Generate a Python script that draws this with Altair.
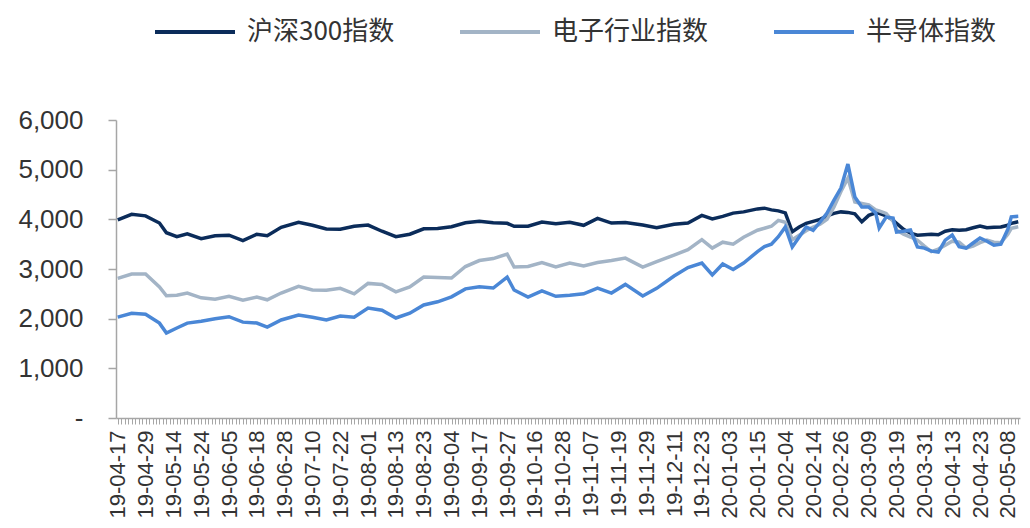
import altair as alt
import pandas as pd

# trading-day index positions at which values were read
idx = [0, 4, 8, 12, 14, 17, 20, 24, 28, 32,
       36, 40, 43, 47, 52, 56, 60, 64, 68, 72,
       76, 80, 84, 88, 92, 96, 100, 104, 108, 112,
       114, 118, 122, 126, 130, 134, 138, 142, 146, 151,
       155, 160, 164, 168, 171, 174, 177, 180, 184, 186,
       188, 190, 192, 194, 196, 198, 200, 202, 204, 206,
       208, 210, 212, 214, 216, 218, 219, 221, 223, 224,
       226, 228, 230, 232, 234, 236, 238, 240, 242, 244,
       246, 248, 250, 252, 254, 256, 257, 259]

hs300 = [3990, 4100, 4070, 3925, 3730, 3650, 3710, 3610, 3670, 3680,
         3570, 3700, 3670, 3840, 3940, 3880, 3805, 3800, 3860, 3885,
         3760, 3650, 3700, 3810, 3815, 3850, 3930, 3960, 3930, 3920,
         3860, 3860, 3946, 3910, 3940, 3880, 4020, 3925, 3935, 3885,
         3830, 3900, 3925, 4080, 4010, 4060, 4125, 4150, 4210, 4225,
         4190, 4170, 4130, 3750, 3845, 3920, 3960, 4000, 4070, 4120,
         4150, 4140, 4110, 3950, 4080, 4130, 4120, 4070, 3980, 3920,
         3800, 3720, 3680, 3690, 3700, 3690, 3760, 3790, 3780, 3790,
         3830, 3865, 3830, 3840, 3845, 3880, 3920, 3950]

elec = [2810, 2900, 2900, 2640, 2460, 2470, 2516, 2420, 2390, 2450,
        2370, 2436, 2380, 2516, 2650, 2577, 2570, 2610, 2500, 2710,
        2690, 2540, 2640, 2838, 2830, 2818, 3050, 3170, 3210, 3300,
        3040, 3050, 3130, 3040, 3120, 3060, 3130, 3170, 3220, 3040,
        3150, 3280, 3390, 3590, 3420, 3540, 3500, 3640, 3780, 3820,
        3860, 3980, 3940, 3590, 3680, 3770, 3845, 3900, 4000, 4250,
        4560, 4830, 4350, 4320, 4290, 4190, 4170, 4120, 3960, 3785,
        3700, 3644, 3580, 3460, 3350, 3400, 3480, 3560, 3540, 3422,
        3460, 3530, 3583, 3540, 3530, 3700, 3820, 3850]

semi = [2030, 2110, 2090, 1910, 1711, 1812, 1910, 1950, 2000, 2040,
        1930, 1912, 1832, 1973, 2073, 2030, 1973, 2053, 2030, 2214,
        2170, 2013, 2110, 2275, 2340, 2440, 2600, 2640, 2617, 2838,
        2577, 2436, 2560, 2450, 2470, 2500, 2617, 2516, 2690, 2456,
        2610, 2860, 3030, 3120, 2879, 3100, 2990, 3120, 3350, 3450,
        3500, 3650, 3845, 3443, 3644, 3845, 3780, 3946, 4127, 4388,
        4630, 5113, 4450, 4247, 4247, 4127, 3825, 4046, 4026, 3744,
        3760, 3785, 3443, 3420, 3360, 3342, 3580, 3684, 3450, 3420,
        3523, 3624, 3560, 3480, 3500, 3800, 4050, 4060]

series_names = ["沪深300指数", "电子行业指数", "半导体指数"]
colors = ["#0b2c5a", "#a3b4c6", "#4a87d6"]

tick_labels = ["19-04-17", "19-04-29", "19-05-14", "19-05-24", "19-06-05",
               "19-06-18", "19-06-28", "19-07-10", "19-07-22", "19-08-01",
               "19-08-13", "19-08-23", "19-09-04", "19-09-17", "19-09-27",
               "19-10-16", "19-10-28", "19-11-07", "19-11-19", "19-11-29",
               "19-12-11", "19-12-23", "20-01-03", "20-01-15", "20-02-04",
               "20-02-14", "20-02-26", "20-03-09", "20-03-19", "20-03-31",
               "20-04-13", "20-04-23", "20-05-08"]
n_days = 260
label_step = 8

assert len(idx) == len(hs300) == len(elec) == len(semi)

rows = []
for name, vals in zip(series_names, [hs300, elec, semi]):
    for i, v in zip(idx, vals):
        rows.append({"i": i, "v": v, "s": name})
df = pd.DataFrame(rows)

label_arr = "[" + ",".join("'" + t + "'" for t in tick_labels) + "]"
text_color = "#333333"
axis_color = "#a6a6a6"

x_axis = alt.Axis(
    values=list(range(n_days)),
    labelExpr=f"datum.value % {label_step} == 0 ? {label_arr}[datum.value / {label_step}] : ''",
    labelAngle=-90, labelAlign="right", labelBaseline="middle",
    labelOverlap=False, labelBound=False, labelFlush=False,
    labelFontSize=22, labelFont="Liberation Sans", labelColor=text_color,
    labelPadding=6, tickSize=6, tickColor=axis_color, tickWidth=1,
    domainColor=axis_color, domainWidth=1.5, grid=False, title=None,
)
y_axis = alt.Axis(
    values=[0, 1000, 2000, 3000, 4000, 5000, 6000],
    labelExpr="datum.value == 0 ? '-' : format(datum.value, ',')",
    labelFontSize=26, labelFont="Liberation Sans", labelColor=text_color,
    labelPadding=25, tickSize=8, tickColor=axis_color, tickWidth=1.5,
    domainColor=axis_color, domainWidth=1.5, grid=False, title=None,
)

chart = alt.Chart(df).mark_line(strokeWidth=3.5).encode(
    x=alt.X("i:Q", scale=alt.Scale(domain=[-0.5, n_days - 0.5], nice=False, zero=False), axis=x_axis),
    y=alt.Y("v:Q", scale=alt.Scale(domain=[0, 6000], nice=False), axis=y_axis),
    color=alt.Color(
        "s:N", sort=series_names,
        scale=alt.Scale(domain=series_names, range=colors),
        legend=alt.Legend(
            orient="none", legendX=37, legendY=-130, direction="horizontal",
            title=None, symbolType="stroke", symbolSize=6400, symbolStrokeWidth=4,
            labelFontSize=26, labelFont="Noto Sans CJK SC", labelColor=text_color,
            labelOffset=10, columnPadding=57, labelLimit=400,
        ),
    ),
).properties(
    width=904, height=298,
    autosize=alt.AutoSizeParams(type="none"),
    padding={"left": 108, "top": 112, "right": 2, "bottom": 100},
    background="white",
).configure_view(stroke=None)

chart.save("out.html", embed_options={"renderer": "svg", "actions": False})
